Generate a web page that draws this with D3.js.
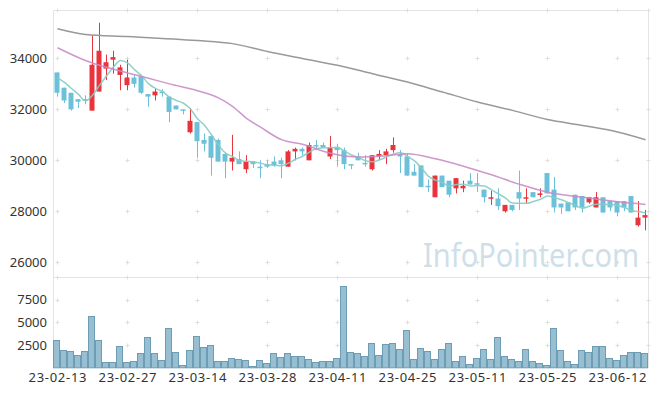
<!DOCTYPE html>
<html>
<head>
<meta charset="utf-8">
<script src="https://cdn.jsdelivr.net/npm/d3@7"></script>
<style>
  body { margin: 0; background: #fff; }
  text { font-family: "Noto Sans", sans-serif; }
</style>
</head>
<body>
<div id="plot"></div>
<script>
var dates = ["23-02-13","23-02-14","23-02-15","23-02-16","23-02-17","23-02-20","23-02-21","23-02-22","23-02-23","23-02-24",
  "23-02-27","23-02-28","23-03-02","23-03-03","23-03-06","23-03-07","23-03-08","23-03-09","23-03-10","23-03-13",
  "23-03-14","23-03-15","23-03-16","23-03-17","23-03-20","23-03-21","23-03-22","23-03-23","23-03-24","23-03-27",
  "23-03-28","23-03-29","23-03-30","23-03-31","23-04-03","23-04-04","23-04-05","23-04-06","23-04-07","23-04-10",
  "23-04-11","23-04-12","23-04-13","23-04-14","23-04-17","23-04-18","23-04-19","23-04-20","23-04-21","23-04-24",
  "23-04-25","23-04-26","23-04-27","23-04-28","23-05-02","23-05-03","23-05-04","23-05-08","23-05-09","23-05-10",
  "23-05-11","23-05-12","23-05-15","23-05-16","23-05-17","23-05-18","23-05-19","23-05-22","23-05-23","23-05-24",
  "23-05-25","23-05-26","23-05-30","23-05-31","23-06-01","23-06-02","23-06-05","23-06-07","23-06-08","23-06-09",
  "23-06-12","23-06-13","23-06-14","23-06-15","23-06-16"];

var open = [33450,32850,32650,32400,32400,31950,32700,33600,33950,33350,
  32950,33250,33300,32600,32550,32700,32500,32150,32000,31100,
  31500,30800,30950,30800,30250,29950,30050,29650,29950,29750,
  29850,29950,30000,29750,30350,30450,30000,30600,30600,30150,
  30500,30400,29850,30150,29900,29650,30150,30200,30400,30250,
  30150,29550,29800,29000,28550,29400,29200,28900,28900,29200,
  29100,28850,28500,28500,28000,28250,28750,28500,28750,28650,
  29500,28850,28300,28350,28650,28600,28350,28150,28550,28400,
  28400,28400,28600,27450,27750];
var high = [33450,32850,32650,32400,32550,34900,35400,34150,34300,33750,
  33950,33350,33300,32600,32800,32800,32500,32150,32000,32050,
  31500,31050,31000,30850,30300,31000,30350,30200,29950,30000,
  30000,30150,30100,30400,30500,30500,30700,30800,30700,30950,
  30650,30500,29850,30300,30200,30200,30400,30450,30900,30400,
  30250,29850,29800,29250,29400,29400,29200,29300,29200,29500,
  29500,28850,28800,28900,28250,28250,29600,28900,28750,28900,
  29500,29350,28300,28350,28650,28600,28550,28750,28550,28400,
  28400,28400,28600,28400,28050];
var low = [32500,32250,31950,32050,32200,31950,32700,33150,33400,32750,
  32750,32850,32600,32100,32350,32500,31500,32000,31800,31050,
  30100,30350,29400,29950,29300,29600,29850,29500,29700,29300,
  29700,29750,29300,29750,30000,30200,30000,30400,30500,30050,
  29750,29650,29650,30000,29750,29600,30000,29850,30300,29500,
  29400,29400,28950,28750,28550,28950,28550,28700,28750,29050,
  28750,28350,28250,28050,27950,28000,28050,28300,28550,28550,
  28700,27950,27900,28000,28050,27950,28300,28150,27950,28000,
  27800,28000,27950,27400,27250];
var close = [32650,32350,32000,32300,32350,33750,34300,33850,34050,33650,
  33250,33000,32650,32500,32700,32650,31900,32000,31950,31550,
  30750,30650,30100,29950,29950,30100,29850,29950,29850,29700,
  29750,29800,29850,30350,30450,30350,30600,30550,30500,30500,
  30400,29850,29800,30000,29850,30200,30250,30350,30600,30150,
  29400,29400,28950,28950,29400,28950,28650,29300,29000,29050,
  29050,28550,28550,28200,28250,28050,28500,28550,28550,28700,
  28700,28150,28150,28000,28150,28150,28550,28550,27950,28150,
  27950,28150,27950,27750,27850];
var volume = [3010,1920,1810,1370,1810,5640,3010,600,600,2360,
  600,710,1590,3340,1590,820,4330,1700,270,1920,
  3450,2250,2470,710,710,1040,930,820,160,820,
  490,1590,1150,1590,1260,1260,930,600,710,710,
  1040,8970,1700,1590,1260,2690,1370,2580,2690,2030,
  4110,930,2140,1810,930,2030,2690,710,1260,380,
  1040,2030,930,3340,1260,930,710,2030,710,490,
  270,4330,1920,710,380,1920,1700,2360,2360,1040,
  820,1370,1700,1700,1590];

// moving averages
var ma5 = [33240,33060,32820,32590,32330,32550,32940,33310,33660,33920,
  33820,33560,33320,33010,32820,32700,32480,32350,32240,32010,
  31630,31380,31000,30600,30280,30150,29990,29960,29940,29890,
  29820,29810,29790,29890,30040,30160,30320,30460,30490,30500,
  30510,30360,30210,30110,29980,29940,30020,30130,30250,30310,
  30150,29980,29700,29370,29220,29130,28980,29050,29060,28990,
  29010,28990,28840,28680,28520,28320,28310,28310,28380,28470,
  28600,28530,28450,28340,28230,28120,28200,28280,28270,28270,
  28230,28150,28030,27990,27930];
var ma20Idx = [0,4,7,10,13,16,20,23,25,27,29,32,35,39,43,47,50,54,58,62,66,70,75,80,84];
var ma20 = [34420,33920,33650,33430,33220,33000,32730,32450,32120,31650,31300,30810,30630,30280,30130,30180,30260,30060,29770,29430,29060,28750,28550,28370,28270];
var ma60Idx = [0,4,10,20,25,30,35,40,45,50,55,60,65,70,75,80,84];
var ma60 = [35160,34940,34860,34700,34580,34270,34000,33730,33400,33070,32680,32290,31960,31600,31370,31110,30810];

var priceTicks = [34000, 32000, 30000, 28000, 26000];
var volTicks = [2500, 5000, 7500];

var width = 657, height = 396;
var plotLeft = 53, plotRight = 648, plotTop = 10, split = 277.5, plotBottom = 367.8;

var svg = d3.select("#plot")
  .append("svg")
    .attr("width", width)
    .attr("height", height);

var x = d3.scaleBand()
    .domain(d3.range(dates.length))
    .range([plotLeft, plotRight])
    .padding(0);
var bw = x.bandwidth();
var cx = function(i) { return Math.round(x(i) + bw / 2) + 0.5; };

var y = d3.scaleLinear()
    .domain([25400, 35900])
    .range([split, plotTop]);

var yv = d3.scaleLinear()
    .domain([0, 9920])
    .range([plotBottom, split]);

// frame
svg.append("path")
    .attr("d", "M" + (plotLeft + 0.5) + "," + plotBottom + "V" + (plotTop + 0.5) + "H" + (plotRight + 0.5) + "V" + plotBottom)
    .attr("fill", "none")
    .attr("stroke", "#e4e4e4");
svg.append("line")
    .attr("x1", plotLeft).attr("x2", plotRight)
    .attr("y1", split).attr("y2", split)
    .attr("stroke", "#e4e4e4");

// grid crosses
var gx = d3.range(0, dates.length, 10).map(function(i) { return cx(i); });
gx.push(plotRight + 0.5);
var gy = [plotTop + 0.5, split].concat(priceTicks.map(function(d) { return Math.round(y(d)) + 0.5; }))
    .concat(volTicks.map(function(d) { return Math.round(yv(d)) + 0.5; }));
var crosses = [];
gx.forEach(function(a) { gy.forEach(function(b) { crosses.push([a, b]); }); });
svg.append("g").selectAll("path")
    .data(crosses)
    .enter()
    .append("path")
      .attr("d", function(d) { return "M" + (d[0] - 2) + "," + d[1] + "h4M" + d[0] + "," + (d[1] - 2) + "v4"; })
      .attr("stroke", "#dedede")
      .attr("fill", "none");

// watermark
svg.append("text")
    .attr("x", 423)
    .attr("y", 267)
    .attr("textLength", 216)
    .attr("lengthAdjust", "spacingAndGlyphs")
    .style("font-size", "33px")
    .style("fill", "#cfdfe9")
    .text("InfoPointer.com");

// axis labels
svg.append("g").selectAll("text")
    .data(priceTicks)
    .enter()
    .append("text")
      .attr("x", 47)
      .attr("y", function(d) { return y(d); })
      .attr("dy", "0.36em")
      .attr("text-anchor", "end")
      .style("font-size", "13px")
      .style("fill", "#333")
      .text(function(d) { return d; });

svg.append("g").selectAll("text")
    .data(volTicks)
    .enter()
    .append("text")
      .attr("x", 47)
      .attr("y", function(d) { return yv(d); })
      .attr("dy", "0.36em")
      .attr("text-anchor", "end")
      .style("font-size", "13px")
      .style("fill", "#333")
      .text(function(d) { return d; });

svg.append("g").selectAll("text")
    .data(d3.range(0, dates.length, 10))
    .enter()
    .append("text")
      .attr("x", function(i) { return cx(i) - 29; })
      .attr("y", 381.5)
      .attr("textLength", 58)
      .attr("lengthAdjust", "spacing")
      .style("font-size", "13px")
      .style("fill", "#333")
      .text(function(i) { return dates[i]; });

// volume
svg.append("g").selectAll("rect")
    .data(volume)
    .enter()
    .append("rect")
      .attr("x", function(d, i) { return Math.round(x(i)) + 0.5; })
      .attr("y", function(d) { return Math.round(yv(d)) + 0.5; })
      .attr("width", Math.round(bw) - 1)
      .attr("height", function(d) { return plotBottom - Math.round(yv(d)) - 0.5; })
      .attr("fill", "#98bfd1")
      .attr("stroke", "#6c9db4");

// candles
var idx = d3.range(dates.length);
var colour = function(i) { return close[i] >= open[i] ? "#e9343c" : "#6cc1da"; };
var candles = svg.append("g");
candles.selectAll("line")
    .data(idx)
    .enter()
    .append("line")
      .attr("x1", cx).attr("x2", cx)
      .attr("y1", function(i) { return y(high[i]); })
      .attr("y2", function(i) { return y(low[i]); })
      .attr("stroke", colour);
candles.selectAll("rect")
    .data(idx)
    .enter()
    .append("rect")
      .attr("x", function(i) { return cx(i) - 3; })
      .attr("width", 5)
      .attr("y", function(i) { return y(Math.max(open[i], close[i])); })
      .attr("height", function(i) { return Math.max(1.5, Math.abs(y(open[i]) - y(close[i]))); })
      .attr("fill", colour);

// moving average lines
var line5 = d3.line()
    .x(function(d, i) { return cx(i); })
    .y(function(d) { return y(d); })
    .curve(d3.curveMonotoneX);
svg.append("path")
    .attr("d", line5(ma5))
    .attr("fill", "none")
    .attr("stroke", "#86ccc4")
    .attr("stroke-opacity", 0.9)
    .attr("stroke-width", 1.5);

var line20 = d3.line()
    .x(function(d, k) { return cx(ma20Idx[k]); })
    .y(function(d) { return y(d); })
    .curve(d3.curveMonotoneX);
svg.append("path")
    .attr("d", line20(ma20))
    .attr("fill", "none")
    .attr("stroke", "#c98cc8")
    .attr("stroke-opacity", 0.9)
    .attr("stroke-width", 1.5);

var line60 = d3.line()
    .x(function(d, k) { return cx(ma60Idx[k]); })
    .y(function(d) { return y(d); })
    .curve(d3.curveMonotoneX);
svg.append("path")
    .attr("d", line60(ma60))
    .attr("fill", "none")
    .attr("stroke", "#999")
    .attr("stroke-width", 1.5);
</script>
</body>
</html>
